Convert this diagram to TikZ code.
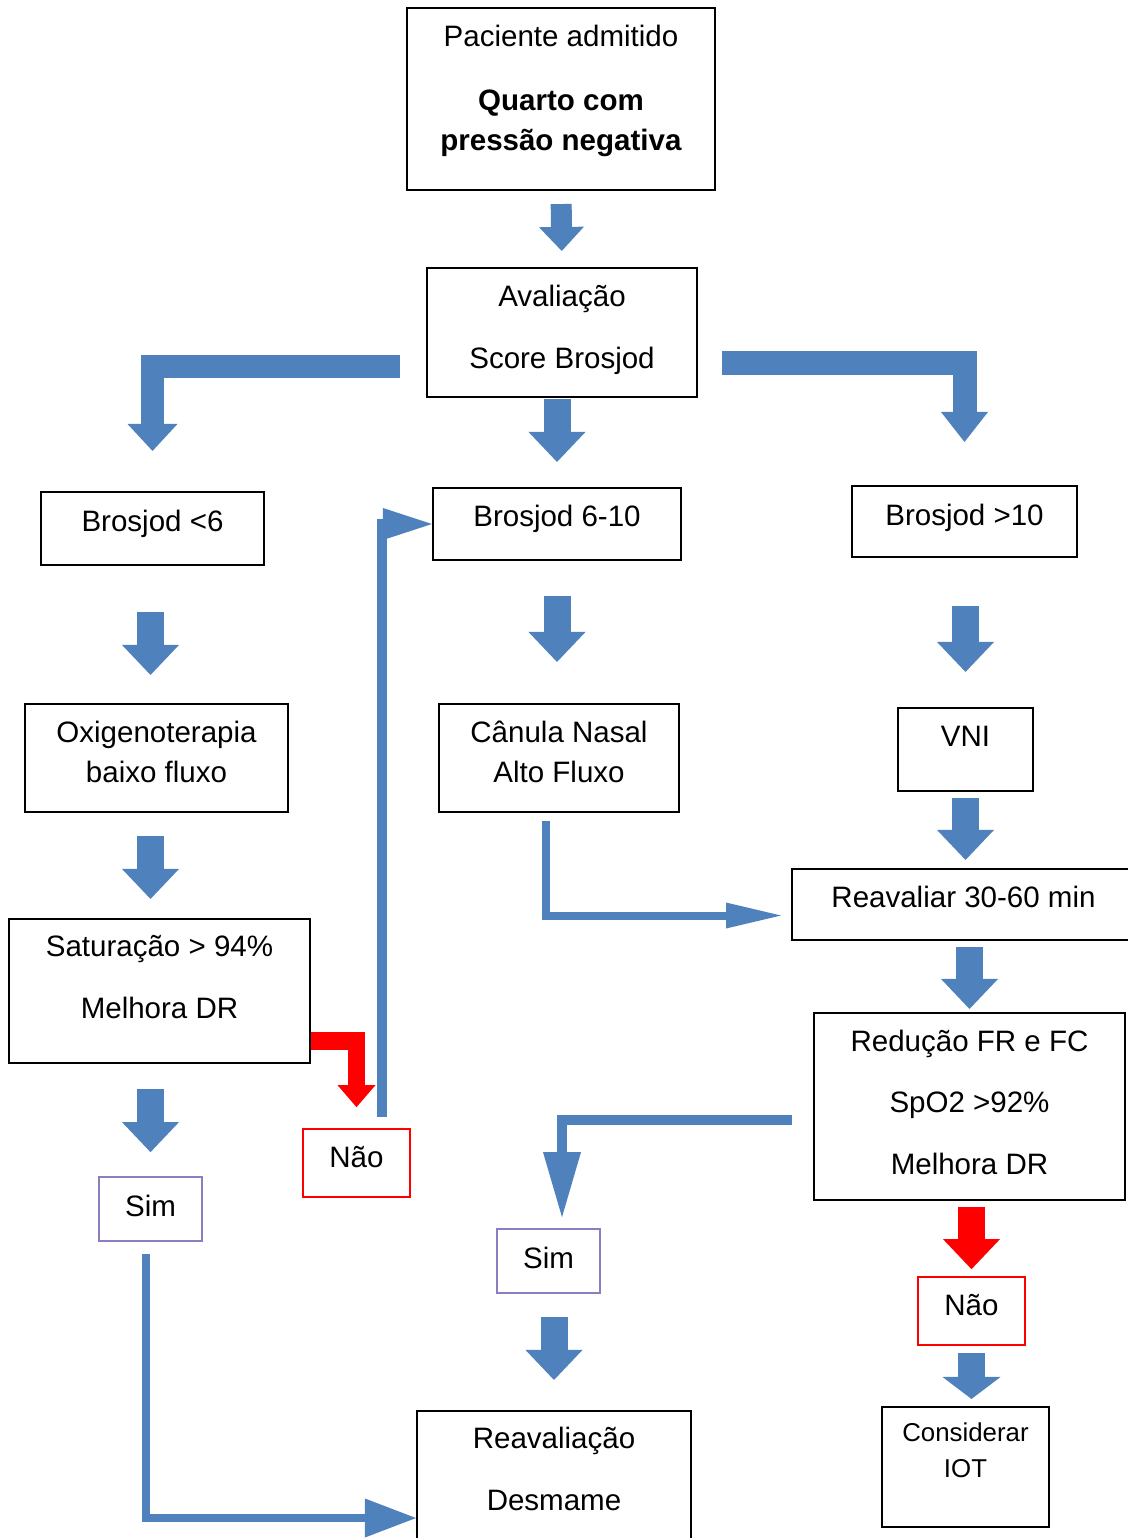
\documentclass[tikz,border=0pt]{standalone}
\usepackage{fontspec}
\setmainfont{Liberation Sans}
\usetikzlibrary{arrows.meta}
\definecolor{blu}{RGB}{79,129,189}
\definecolor{lila}{RGB}{142,124,195}
\newcommand{\txtlift}[1]{\rule[-#1]{0pt}{#1}}
\tikzset{bx/.append style={draw, line width=1.2pt, align=center, inner sep=0pt, font=\fontsize{16.8}{22.7}\selectfont}}
\tikzset{nao/.append style={bx, draw=red, line width=1pt}}
\tikzset{sim/.append style={bx, draw=lila, line width=1pt}}
\tikzset{blk/.append style={draw=blu, line width=0.54cm, -{Triangle[width=1.14cm,length=0.6cm,line width=0pt]}}}
\tikzset{blks/.append style={draw=blu, line width=0.42cm, -{Triangle[width=0.9cm,length=0.48cm,line width=0pt]}}}
\tikzset{thn/.append style={draw=blu, line width=0.16cm}}

\begin{document}
\begin{tikzpicture}[x=0.02cm,y=-0.02cm]
                \useasboundingbox (0,0) rectangle (1127,1538);
                % boxes
                \node[bx, minimum width=6.16cm, minimum height=3.64cm] (pac) at (561,99) {Paciente admitido\\[13.6pt]\textbf{Quarto com}\\\textbf{pressão negativa}\txtlift{12.5pt}};
                \node[bx, minimum width=5.4cm, minimum height=2.58cm] (ava) at (562,332.5) {Avaliação\\[12.4pt]Score Brosjod\txtlift{6.2pt}};
                \node[bx, minimum width=4.46cm, minimum height=1.46cm] (b6) at (152.5,528.5) {Brosjod <6\txtlift{8.5pt}};
                \node[bx, minimum width=4.96cm, minimum height=1.44cm] (b610) at (557,524) {Brosjod 6-10\txtlift{9pt}};
                \node[bx, minimum width=4.5cm, minimum height=1.42cm] (b10) at (964.5,521.5) {Brosjod >10\txtlift{7.4pt}};
                \node[bx, minimum width=5.26cm, minimum height=2.16cm] (oxi) at (156.5,758) {Oxigenoterapia\\baixo fluxo\txtlift{6.8pt}};
                \node[bx, minimum width=4.8cm, minimum height=2.16cm] (can) at (559,758) {Cânula Nasal\\Alto Fluxo\txtlift{6.8pt}};
                \node[bx, minimum width=2.7cm, minimum height=1.66cm] (vni) at (965.5,749.5) {VNI\txtlift{15.3pt}};
                \node[bx, minimum width=6.02cm, minimum height=2.88cm] (sat) at (159.5,991) {Saturação > 94\%\\[12.4pt]Melhora DR\txtlift{15.9pt}};
                \node[bx, minimum width=6.86cm, minimum height=1.42cm] (rea) at (963.5,904.5) {Reavaliar 30-60 min\txtlift{8.5pt}};
                \node[bx, minimum width=6.22cm, minimum height=3.74cm] (red) at (969.5,1106.5) {Redução FR e FC\\[12.4pt]SpO2 >92\%\\[12.4pt]Melhora DR\txtlift{5.1pt}};
                \node[nao, minimum width=2.14cm, minimum height=1.36cm] (naoL) at (356.5,1163) {Não\txtlift{6.8pt}};
                \node[sim, minimum width=2.06cm, minimum height=1.28cm] (simL) at (150.5,1209) {Sim\txtlift{3.4pt}};
                \node[sim, minimum width=2.06cm, minimum height=1.28cm] (simM) at (548.5,1261) {Sim\txtlift{3.4pt}};
                \node[nao, minimum width=2.14cm, minimum height=1.36cm] (naoR) at (971.5,1311) {Não\txtlift{6.8pt}};
                \node[bx, minimum width=3.34cm, minimum height=2.4cm, font=\fontsize{14.7}{20.4}\selectfont] (iot) at (965.5,1467) {Considerar\\IOT\txtlift{19.3pt}};
                \node[bx, minimum width=5.48cm, minimum height=2.68cm] (des) at (554,1478) {Reavaliação\\[12.4pt]Desmame\txtlift{10.2pt}};
                % block arrows
                \draw[blks, shorten <=0.26cm, shorten >=0.32cm] (pac.south) -- (ava.north);
                \draw[blk, shorten <=0.02cm, shorten >=0.5cm] (ava.south -| b610) -- (b610.north);
                \draw[blk, line width=0.47cm, -{Triangle[width=1cm,length=0.54cm,line width=0pt]}, shorten <=0.52cm, shorten >=0.8cm] ([shift={(0,34)}]ava.west) -| (b6.north);
                \draw[blk, line width=0.48cm, -{Triangle[width=0.94cm,length=0.6cm,line width=0pt]}, shorten <=0.48cm, shorten >=0.86cm] ([shift={(0,30)}]ava.east) -| (b10.north);
                \draw[blk, shorten <=0.92cm, shorten >=0.56cm] (b6.south -| simL) -- (oxi.north -| simL);
                \draw[blk, shorten <=0.7cm, shorten >=0.82cm] (b610.south) -- (can.north -| b610);
                \draw[blk, shorten <=0.96cm, shorten >=0.7cm] (b10.south -| vni) -- (vni.north);
                \draw[blk, shorten <=0.46cm, shorten >=0.38cm] (oxi.south -| simL) -- (sat.north -| simL);
                \draw[blk, shorten <=0.12cm, shorten >=0.16cm] (vni.south) -- (rea.north -| vni);
                \draw[blk, shorten <=0.12cm, shorten >=0.06cm] (rea.south -| red) -- (red.north);
                \draw[blk, shorten <=0.5cm, shorten >=0.48cm] (sat.south -| simL) -- (simL.north);
                \draw[blk, shorten <=0.46cm, shorten >=0.6cm] (simM.south -| des) -- (des.north);
                \draw[blk, draw=red, shorten <=0.12cm, shorten >=0.14cm] (red.south -| naoR) -- (naoR.north);
                \draw[blk, -{Triangle[width=1.16cm,length=0.44cm,line width=0pt]}, shorten <=0.14cm, shorten >=0.14cm] (naoR.south) -- (iot.north -| naoR);
                \draw[blk, draw=red, line width=0.35cm, -{Triangle[width=0.76cm,length=0.44cm,line width=0pt]}, shorten >=0.42cm] ([shift={(0,50)}]sat.east) -| (naoL.north);
                % line arrows
                \draw[thn, -{Triangle[width=0.52cm,length=1.1cm,line width=0pt]}, shorten <=0.16cm, shorten >=0.2cm] ([shift={(-13,0)}]can.south) |- ([shift={(0,11)}]rea.west);
                \draw[thn, -{Triangle[width=0.78cm,length=1.02cm,line width=0pt]}, shorten <=0.24cm] ([shift={(-4.5,0)}]simL.south) |- ([shift={(0,40)}]des.west);
                \draw[thn, line width=0.2cm, -{Triangle[width=0.76cm,length=1.3cm,line width=0pt]}, shorten <=0.42cm, shorten >=0.22cm] ([shift={(0,13.5)}]red.west) -| ([shift={(13.5,0)}]simM.north);
                \draw[thn, line width=0.19cm, -{Triangle[width=0.64cm,length=0.98cm,line width=0pt]}, shorten <=0.22cm] ([shift={(25.5,0)}]naoL.north) |- (b610.west);
\end{tikzpicture}
\end{document}
